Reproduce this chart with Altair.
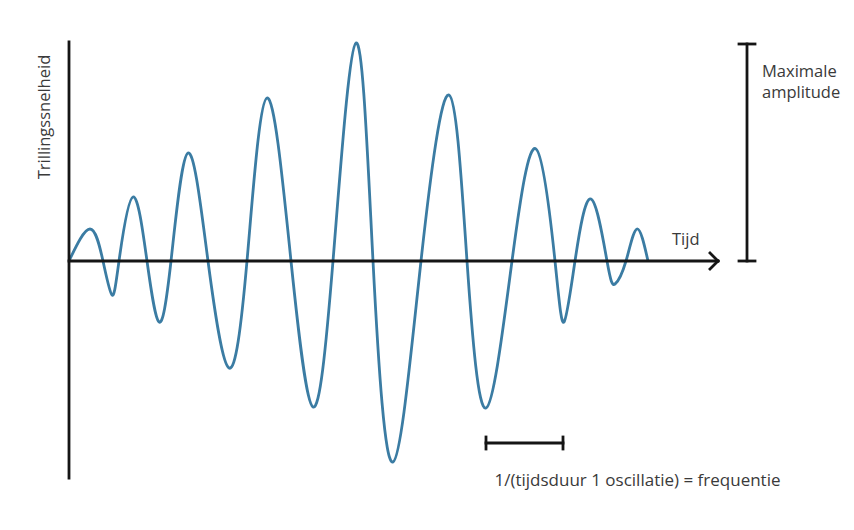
import altair as alt
import pandas as pd

# Waveform: time (arbitrary units) and vibration velocity
time = [0, 21, 34, 43, 50, 64, 78, 90, 102, 119, 139, 160, 178, 198, 222, 244, 264,
        287, 304, 324, 352, 380, 398, 417, 443, 467, 486, 495, 506, 522, 538, 546,
        557, 568, 579]
velocity = [0, 32, 0, -34, 0, 64, 0, -61, 0, 108, 0, -107, 0, 163, 0, -146, 0,
            218, 0, -201, 0, 166, 0, -147, 0, 112, 0, -61, 0, 62, 0, -23,
            0, 32, 0]

# Annotation elements (data units)
seg_x = [0, 0, 641, 641, 678, 670, 670, 417, 417, 494]
seg_y = [219, 0, 8, -8, 217, 217, 0, -182, -176, -176]
seg_x2 = [0, 649, 649, 649, 678, 686, 686, 494, 417, 494]
seg_y2 = [-217, 0, 0, 0, 0, 217, 0, -182, -188, -188]

label_text = ["Tijd", "Maximale", "amplitude"]
label_x = [603, 693, 693]
label_y = [21, 189, 168]

note_text = ["1/(tijdsduur 1 oscillatie) = frequentie"]
note_x = [568.5]
note_y = [-220]

ylabel_text = ["Trillingssnelheid"]
ylabel_x = [-24]
ylabel_y = [144]

wave = pd.DataFrame({"t": time, "v": velocity})
segs = pd.DataFrame({"x": seg_x, "y": seg_y, "x2": seg_x2, "y2": seg_y2})
labels = pd.DataFrame({"text": label_text, "x": label_x, "y": label_y})
notes = pd.DataFrame({"text": note_text, "x": note_x, "y": note_y})
ylab = pd.DataFrame({"text": ylabel_text, "x": ylabel_x, "y": ylabel_y})

xs = alt.Scale(domain=[-61, 777], nice=False, zero=False)
ys = alt.Scale(domain=[-261, 253], nice=False, zero=False)
FONT = "Open Sans"
TXT = "#3a3a3a"

line = alt.Chart(wave).mark_line(
    interpolate="natural", color="#3b7ca3", strokeWidth=2.8
).encode(
    x=alt.X("t:Q", scale=xs, axis=None),
    y=alt.Y("v:Q", scale=ys, axis=None),
    order="t:Q",
)

rules = alt.Chart(segs).mark_rule(color="#151515", strokeWidth=2.8, strokeCap="square").encode(
    x=alt.X("x:Q", scale=xs, axis=None),
    y=alt.Y("y:Q", scale=ys, axis=None),
    x2="x2:Q",
    y2="y2:Q",
)

lab = alt.Chart(labels).mark_text(
    align="left", baseline="middle", font=FONT, fontSize=16.5, color=TXT
).encode(
    x=alt.X("x:Q", scale=xs, axis=None),
    y=alt.Y("y:Q", scale=ys, axis=None),
    text="text:N",
)

note = alt.Chart(notes).mark_text(
    align="center", baseline="middle", font=FONT, fontSize=17, color=TXT
).encode(
    x=alt.X("x:Q", scale=xs, axis=None),
    y=alt.Y("y:Q", scale=ys, axis=None),
    text="text:N",
)

yl = alt.Chart(ylab).mark_text(
    align="center", baseline="middle", font=FONT, fontSize=16.5, color=TXT, angle=270
).encode(
    x=alt.X("x:Q", scale=xs, axis=None),
    y=alt.Y("y:Q", scale=ys, axis=None),
    text="text:N",
)

chart = alt.layer(line, rules, lab, note, yl).properties(
    width=838, height=514, padding=0, autosize=alt.AutoSizeParams(type="none")
).configure_view(stroke=None)

chart.save("out.html", embed_options={"renderer": "svg", "actions": False})
